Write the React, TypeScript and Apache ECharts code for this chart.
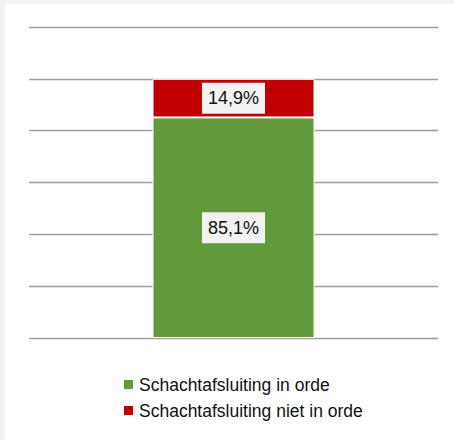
import React, { useEffect, useRef } from "react";
import * as echarts from "echarts";

const categories = ["Schachtafsluiting"];
const seriesNames = ["Schachtafsluiting in orde", "Schachtafsluiting niet in orde"];
const inOrde = [85.1];
const nietInOrde = [14.9];
const seriesColors = ["#61993b", "#c00000"];

const FONT = "'Liberation Sans Narrow', 'Arial Narrow', 'Liberation Sans', Arial, sans-serif";

export default function App() {
  const ref = useRef<HTMLDivElement>(null);
  useEffect(() => {
    document.body.style.margin = "0";
    const chart = echarts.init(ref.current!, null, { renderer: "svg" });
    const fmt = (p: any) => String(p.value).replace(".", ",") + "%";
    const label = {
      show: true,
      position: "inside",
      formatter: fmt,
      color: "#111",
      fontFamily: FONT,
      fontSize: 18,
      lineHeight: 21,
      backgroundColor: "#f2f2f2",
      padding: [5, 6, 5, 6],
    };
    chart.setOption({
      animation: false,
      backgroundColor: "#f2f2f2",
      graphic: [
        {
          type: "rect",
          z: -10,
          shape: { x: 5, y: 4, width: 449, height: 436 },
          style: { fill: "#ffffff" },
          silent: true,
        },
      ],
      grid: { left: 29, right: 16, top: 27, bottom: 102, containLabel: false },
      xAxis: {
        type: "category",
        data: categories,
        axisLine: { show: false },
        axisTick: { show: false },
        axisLabel: { show: false },
      },
      yAxis: {
        type: "value",
        min: 0,
        max: 120,
        interval: 20,
        axisLabel: { show: false },
        axisLine: { show: false },
        axisTick: { show: false },
        splitLine: { show: true, lineStyle: { color: "#9e9e9e", width: 1.3 } },
      },
      legend: {
        orient: "vertical",
        left: 117,
        top: 369,
        itemWidth: 11,
        itemHeight: 11,
        itemGap: 5,
        icon: "rect",
        textStyle: { fontFamily: FONT, fontSize: 17.5, lineHeight: 21, color: "#111" },
        data: seriesNames,
      },
      series: [
        {
          name: seriesNames[0],
          type: "bar",
          stack: "total",
          data: inOrde,
          barWidth: 162,
          itemStyle: { color: seriesColors[0], borderColor: "#ffffff", borderWidth: 1 },
          label,
        },
        {
          name: seriesNames[1],
          type: "bar",
          stack: "total",
          data: nietInOrde,
          barWidth: 162,
          itemStyle: { color: seriesColors[1], borderColor: "#ffffff", borderWidth: 1 },
          label,
        },
      ],
    });
    return () => chart.dispose();
  }, []);
  return <div ref={ref} style={{ width: 454, height: 440 }} />;
}
